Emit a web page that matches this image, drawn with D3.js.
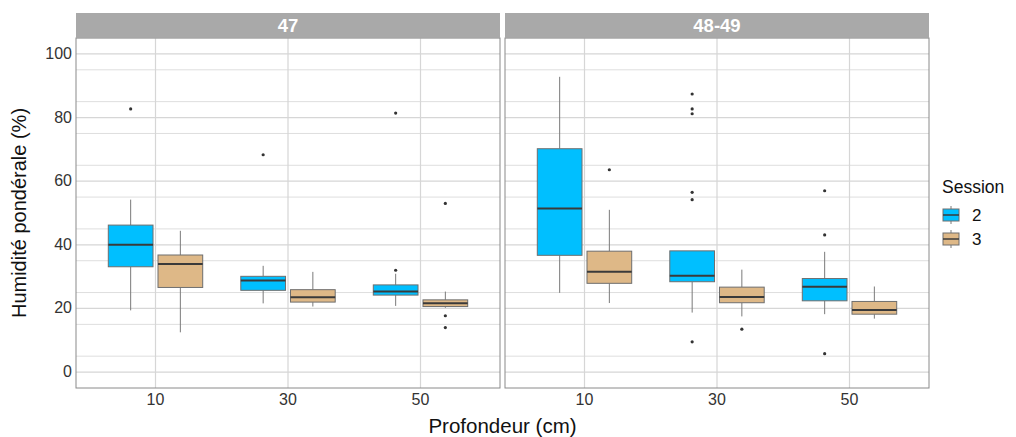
<!DOCTYPE html>
<html>
<head>
<meta charset="utf-8">
<script src="https://cdn.jsdelivr.net/npm/d3@7"></script>
<style>
  body { margin: 0; background: #fff; }
  text { font-family: "Liberation Sans", Arial, sans-serif; }
</style>
</head>
<body>
<script>
// facets, depths and sessions
var facets = ["47", "48-49"];
var depths = ["10", "30", "50"];
var sessions = ["2", "3"];
var yTicks = [0, 20, 40, 60, 80, 100];

// box stats, order: facet > depth > session
var lowers  = [19.4, 12.5, 21.6, 20.6, 20.8, 20.2, 24.9, 21.7, 18.7, 17.5, 18.2, 16.8];
var q1s     = [33.1, 26.6, 25.7, 22.0, 24.2, 20.6, 36.7, 27.9, 28.4, 21.8, 22.4, 18.2];
var medians = [40.0, 34.0, 28.8, 23.5, 25.3, 21.6, 51.4, 31.5, 30.3, 23.6, 26.8, 19.5];
var q3s     = [46.2, 36.8, 30.1, 25.9, 27.4, 22.7, 70.2, 38.0, 38.1, 26.7, 29.4, 22.2];
var uppers  = [54.2, 44.4, 33.4, 31.5, 30.9, 25.3, 92.8, 51.0, 38.1, 32.2, 37.8, 26.9];
var outliers = [[82.7], [], [68.3], [], [32.0, 81.4], [53.0, 17.7, 14.0],
                [], [63.6], [87.4, 82.7, 81.2, 56.5, 54.2, 9.5], [13.5], [57.0, 43.1, 5.8], []];

var colors = {"2": "#00BFFF", "3": "#DEB887"};

var w = 1016, h = 437;
var panel = {left: 76, width: 424, gap: 5, top: 38, bottom: 388, stripTop: 13};

// build box rows
var boxes = [];
var k = 0;
facets.forEach(function(f) {
  depths.forEach(function(d) {
    sessions.forEach(function(s) {
      boxes.push({facet: f, depth: d, session: s, lower: lowers[k], q1: q1s[k],
        median: medians[k], q3: q3s[k], upper: uppers[k], out: outliers[k]});
      k++;
    });
  });
});

var svg = d3.select("body").append("svg")
  .attr("width", w)
  .attr("height", h);

var yScale = d3.scaleLinear()
  .domain([-5, 105])
  .range([panel.bottom, panel.top]);

var xScale = d3.scalePoint()
  .domain(depths)
  .range([0, panel.width])
  .padding(0.6);

var step = xScale.step();
var offset = {"2": -0.1875 * step, "3": 0.1875 * step};
var boxW = 0.3375 * step;

facets.forEach(function(f, i) {
  var x0 = panel.left + i * (panel.width + panel.gap);
  var g = svg.append("g").attr("transform", "translate(" + x0 + ",0)");

  // strip
  g.append("rect")
    .attr("x", 0).attr("y", panel.stripTop)
    .attr("width", panel.width).attr("height", panel.top - panel.stripTop)
    .attr("fill", "#a9a9a9");
  g.append("text")
    .attr("x", panel.width / 2).attr("y", panel.top - 6)
    .attr("text-anchor", "middle")
    .attr("fill", "white")
    .attr("font-weight", "bold")
    .attr("font-size", 18.5)
    .text(f);

  // grid
  var minor = d3.range(-5, 106, 10).filter(function(v) { return v > -5; });
  g.selectAll(".minor").data(minor).enter().append("line")
    .attr("x1", 0).attr("x2", panel.width)
    .attr("y1", function(d) { return yScale(d); })
    .attr("y2", function(d) { return yScale(d); })
    .attr("stroke", "#dedede").attr("stroke-width", 1);
  g.selectAll(".major").data(yTicks).enter().append("line")
    .attr("x1", 0).attr("x2", panel.width)
    .attr("y1", function(d) { return yScale(d); })
    .attr("y2", function(d) { return yScale(d); })
    .attr("stroke", "#d6d6d6").attr("stroke-width", 1.2);
  g.selectAll(".vgrid").data(depths).enter().append("line")
    .attr("x1", function(d) { return xScale(d); })
    .attr("x2", function(d) { return xScale(d); })
    .attr("y1", panel.top).attr("y2", panel.bottom)
    .attr("stroke", "#d6d6d6").attr("stroke-width", 1.2);

  // boxes
  var fb = boxes.filter(function(b) { return b.facet == f; });
  var bg = g.selectAll(".box").data(fb).enter().append("g")
    .attr("transform", function(b) {
      return "translate(" + (xScale(b.depth) + offset[b.session]) + ",0)";
    });
  bg.append("line")
    .attr("x1", 0).attr("x2", 0)
    .attr("y1", function(b) { return yScale(b.upper); })
    .attr("y2", function(b) { return yScale(b.q3); })
    .attr("stroke", "#7a7a7a");
  bg.append("line")
    .attr("x1", 0).attr("x2", 0)
    .attr("y1", function(b) { return yScale(b.q1); })
    .attr("y2", function(b) { return yScale(b.lower); })
    .attr("stroke", "#7a7a7a");
  bg.append("rect")
    .attr("x", -boxW / 2).attr("width", boxW)
    .attr("y", function(b) { return yScale(b.q3); })
    .attr("height", function(b) { return yScale(b.q1) - yScale(b.q3); })
    .attr("fill", function(b) { return colors[b.session]; })
    .attr("stroke", "#6e6e6e").attr("stroke-width", 1);
  bg.append("line")
    .attr("x1", -boxW / 2).attr("x2", boxW / 2)
    .attr("y1", function(b) { return yScale(b.median); })
    .attr("y2", function(b) { return yScale(b.median); })
    .attr("stroke", "#3a3a3a").attr("stroke-width", 2);
  bg.selectAll("circle").data(function(b) { return b.out; }).enter().append("circle")
    .attr("cx", 0)
    .attr("cy", function(v) { return yScale(v); })
    .attr("r", 1.6)
    .attr("fill", "#333");

  // border
  g.append("rect")
    .attr("x", 0).attr("y", panel.top)
    .attr("width", panel.width).attr("height", panel.bottom - panel.top)
    .attr("fill", "none").attr("stroke", "#8a8a8a").attr("stroke-width", 1);

  // x axis labels
  g.selectAll(".xl").data(depths).enter().append("text")
    .attr("x", function(d) { return xScale(d); })
    .attr("y", panel.bottom + 17)
    .attr("text-anchor", "middle")
    .attr("font-size", 16)
    .attr("fill", "#333")
    .text(function(d) { return d; });
});

// y axis ticks
svg.selectAll(".yl").data(yTicks).enter().append("text")
  .attr("x", panel.left - 4)
  .attr("y", function(d) { return yScale(d) + 5; })
  .attr("text-anchor", "end")
  .attr("font-size", 16)
  .attr("fill", "#333")
  .text(function(d) { return d; });

// axis titles
svg.append("text")
  .attr("transform", "translate(26," + ((panel.top + panel.bottom) / 2) + ") rotate(-90)")
  .attr("text-anchor", "middle")
  .attr("font-size", 20)
  .attr("fill", "#111")
  .text("Humidité pondérale (%)");

svg.append("text")
  .attr("x", panel.left + panel.width + panel.gap / 2)
  .attr("y", 433)
  .attr("text-anchor", "middle")
  .attr("font-size", 20.5)
  .attr("fill", "#111")
  .text("Profondeur (cm)");

// legend
var lg = svg.append("g").attr("transform", "translate(942,0)");
lg.append("text")
  .attr("x", 0).attr("y", 193)
  .attr("font-size", 17.5)
  .attr("fill", "#111")
  .text("Session");
sessions.forEach(function(s, i) {
  var cy = 215 + i * 24;
  lg.append("line")
    .attr("x1", 9).attr("x2", 9).attr("y1", cy - 9).attr("y2", cy + 9)
    .attr("stroke", "#7a7a7a");
  lg.append("rect")
    .attr("x", 1).attr("y", cy - 6).attr("width", 16).attr("height", 12)
    .attr("fill", colors[s]).attr("stroke", "#6e6e6e");
  lg.append("line")
    .attr("x1", 1).attr("x2", 17).attr("y1", cy).attr("y2", cy)
    .attr("stroke", "#3a3a3a").attr("stroke-width", 1.5);
  lg.append("text")
    .attr("x", 30).attr("y", cy + 6)
    .attr("font-size", 17)
    .attr("fill", "#111")
    .text(s);
});
</script>
</body>
</html>
